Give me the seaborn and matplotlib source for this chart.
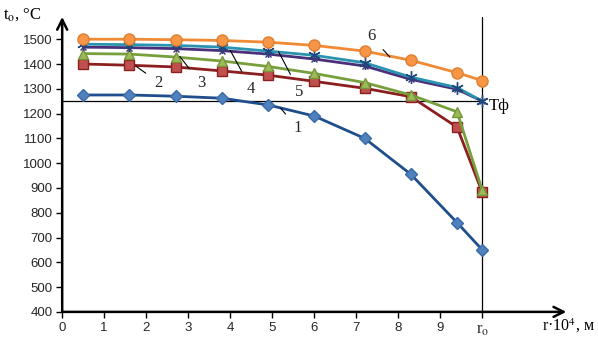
import numpy as np
import pandas as pd
import matplotlib
matplotlib.use("Agg")
import matplotlib.pyplot as plt
import seaborn as sns

# radius points (r*10^4, m); r0 = 10
r = [0.5, 1.6, 2.7, 3.8, 4.9, 6.0, 7.2, 8.3, 9.4, 10.0]

t1 = [1275, 1275, 1270, 1262, 1235, 1190, 1100, 955, 760, 650]
t2 = [1400, 1395, 1388, 1372, 1355, 1330, 1302, 1268, 1145, 882]
t3 = [1442, 1440, 1428, 1412, 1390, 1362, 1325, 1275, 1207, 890]
t4 = [1468, 1466, 1462, 1454, 1440, 1420, 1392, 1338, 1298, 1250]
t5 = [1480, 1478, 1475, 1468, 1452, 1435, 1405, 1347, 1305, 1250]
t6 = [1500, 1500, 1498, 1495, 1488, 1475, 1452, 1415, 1365, 1333]

curve_names = ["1", "2", "3", "4", "5", "6"]
t_front = 1250
x_ticks = [0, 1, 2, 3, 4, 5, 6, 7, 8, 9, 10]
x_ticklabels = ["0", "1", "2", "3", "4", "5", "6", "7", "8", "9", r"r$_{\rm o}$"]
y_ticks = list(range(400, 1600, 100))

sns.set_style("white")
plt.rcParams["mathtext.fontset"] = "stix"
plt.rcParams["font.family"] = ["Liberation Sans", "DejaVu Sans"]

fig = plt.figure(figsize=(5.98, 3.45), dpi=100)
ax = fig.add_axes([0.104, 0.096, 0.843, 0.855])

styles = [
    dict(color="#1f4e8c", marker="D", mfc="#4f81bd", mec="#3a6aa8", ms=6),
    dict(color="#8b1e1e", marker="s", mfc="#c0504d", mec="#8b1e1e", ms=7),
    dict(color="#77a03c", marker="^", mfc="#9bbb59", mec="#77933c", ms=7.5),
    dict(color="#4b2f7a", marker="x", mfc="#4b2f7a", mec="#4b2f7a", ms=5),
    dict(color="#2a93b0", marker=(6, 2, 0), mfc="#1f497d", mec="#1f497d", ms=9),
    dict(color="#f08a35", marker="o", mfc="#f79646", mec="#e07f2f", ms=8),
]
series = [t1, t2, t3, t4, t5, t6]

for vals, st in zip(series, styles):
    sns.lineplot(x=r, y=vals, ax=ax, color=st["color"], linewidth=2.0,
                 marker=st["marker"], markersize=st["ms"],
                 markerfacecolor=st["mfc"], markeredgecolor=st["mec"],
                 markeredgewidth=1.0, zorder=3)

# reference lines: front temperature and r0
ax.plot([0, 10], [t_front, t_front], color="black", lw=0.9, zorder=2)
ax.plot([10, 10], [400, 1590], color="black", lw=0.9, zorder=2)

ax.set_xlim(0, 12)
ax.set_ylim(400, 1590)
for s in ax.spines.values():
    s.set_visible(False)

# axes with arrows
ax.annotate("", xy=(1.0, 0), xytext=(0, 0), xycoords="axes fraction",
            arrowprops=dict(arrowstyle="->", lw=1.8, color="black",
                            mutation_scale=18, shrinkA=0, shrinkB=0))
ax.annotate("", xy=(0, 1.0), xytext=(0, 0), xycoords="axes fraction",
            arrowprops=dict(arrowstyle="->", lw=1.8, color="black",
                            mutation_scale=18, shrinkA=0, shrinkB=0))

ax.set_xticks(x_ticks)
ax.set_xticklabels(x_ticklabels)
ax.set_yticks(y_ticks)
ax.tick_params(axis="both", direction="out", length=4, width=1, color="black",
               labelsize=9.5, pad=3, bottom=True, left=True)
for lab in ax.get_xticklabels()[-1:]:
    lab.set_fontfamily("Liberation Serif")
    lab.set_fontsize(12)

serif = dict(family="Liberation Serif", color="black")
fig.text(0.005, 0.945, r"t$_{\rm o}$, °C", fontsize=12, **serif)
fig.text(0.995, 0.028, r"r·10$^{4}$, м", fontsize=11.5, ha="right",
         va="bottom", **serif)
ax.text(10.15, 1230, "Tф", fontsize=12, ha="left", va="center", **serif)

# curve numbers with leader lines
label_pos = [(5.2, 1222, 5.6, 1140), (1.75, 1392, 2.3, 1325),
             (2.8, 1430, 3.3, 1322), (4.0, 1455, 4.5, 1300),
             (5.15, 1450, 5.65, 1288), (7.8, 1428, 7.35, 1512)]
for name, (x0, y0, x1, y1) in zip(curve_names, label_pos):
    ax.annotate(name, xy=(x0, y0), xytext=(x1, y1), fontsize=12,
                ha="center", va="center", fontfamily="Liberation Serif",
                arrowprops=dict(arrowstyle="-", lw=0.8, color="black",
                                shrinkA=5, shrinkB=0))

fig.savefig("out.png", dpi=100)
